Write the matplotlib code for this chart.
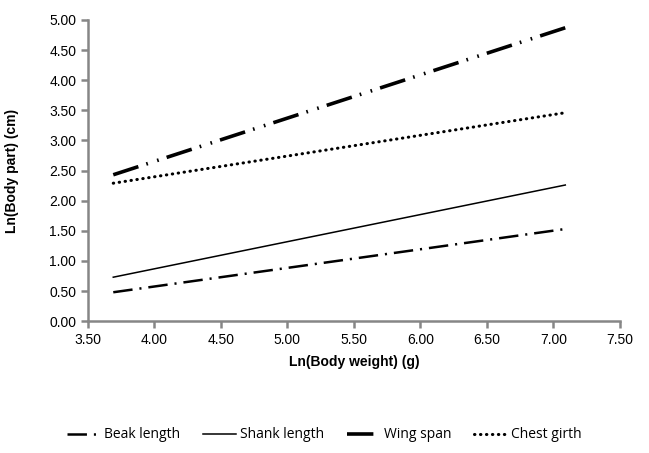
import matplotlib
matplotlib.use("Agg")
import matplotlib.pyplot as plt
import numpy as np

x_vals = [3.69, 7.09]
beak = [0.48, 1.53]
shank = [0.73, 2.26]
wing = [2.43, 4.87]
chest = [2.29, 3.46]

plt.rcParams['font.family'] = ['Liberation Sans', 'DejaVu Sans']
plt.rcParams['lines.scale_dashes'] = False
fig = plt.figure(figsize=(6.49, 4.53), dpi=100)
ax = fig.add_axes([0.1356, 0.291, 0.955 - 0.1356, 0.956 - 0.291])

ax.plot(x_vals, beak, color='black', lw=1.8, dashes=(14, 5, 1.5, 5), label='Beak length')
ax.plot(x_vals, shank, color='black', lw=1.1, linestyle='-', label='Shank length')
ax.plot(x_vals, wing, color='black', lw=2.6, dashes=(19, 6, 1.2, 7, 1.2, 6), label='Wing span')
ax.plot(x_vals, chest, color='black', lw=2.2, dashes=(0.3, 4.0), dash_capstyle='round', label='Chest girth')

ax.set_xlim(3.5, 7.5)
ax.set_ylim(0, 5)
ax.set_xticks(np.arange(3.5, 7.51, 0.5))
ax.set_yticks(np.arange(0, 5.01, 0.5))
ax.set_xticklabels([f"{v:.2f}" for v in np.arange(3.5, 7.51, 0.5)], fontsize=10)
ax.set_yticklabels([f"{v:.2f}" for v in np.arange(0, 5.01, 0.5)], fontsize=10)
for s in ['top', 'right']:
    ax.spines[s].set_visible(False)
for s in ['left', 'bottom']:
    ax.spines[s].set_color('#868686')
    ax.spines[s].set_linewidth(1.8)
ax.tick_params(axis='both', color='#868686', width=1.8, length=5, direction='out', labelcolor='black')

ax.set_xlabel('Ln(Body weight) (g)', fontsize=10, fontweight='bold', labelpad=6)
ax.set_ylabel('Ln(Body part) (cm)', fontsize=10, fontweight='bold')
ax.yaxis.set_label_coords(-0.13, 0.5)

fig.legend(loc='center', bbox_to_anchor=(0.5, 0.04), ncol=4, frameon=False,
           handlelength=2.4, columnspacing=1.6, handletextpad=0.3,
           prop={'family': ['Open Sans', 'DejaVu Sans'], 'size': 10})

fig.savefig('out.png', dpi=100)
